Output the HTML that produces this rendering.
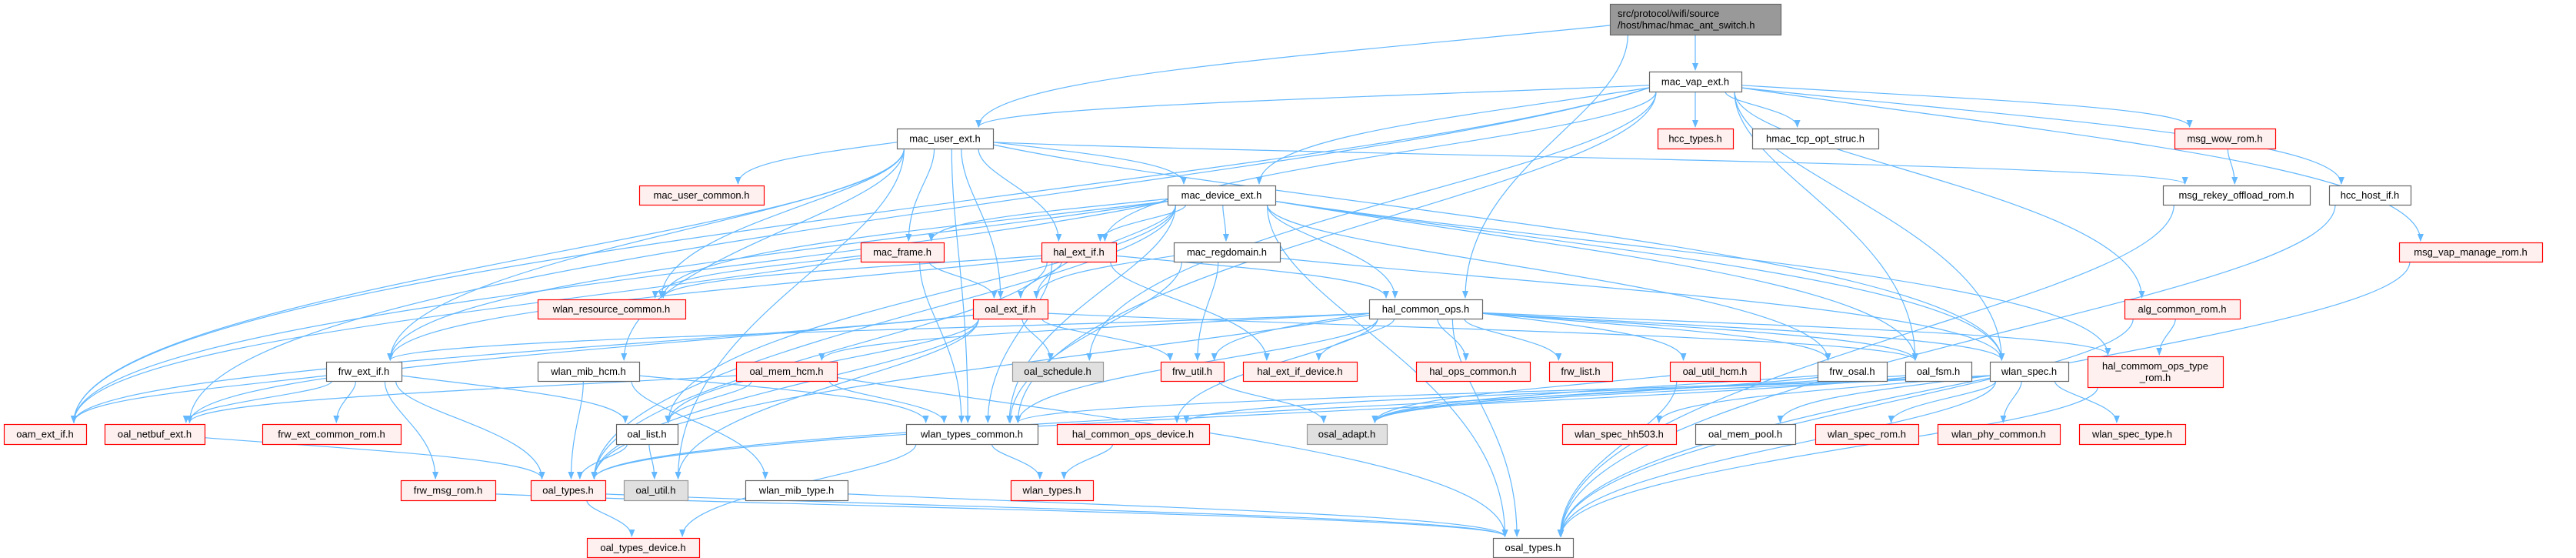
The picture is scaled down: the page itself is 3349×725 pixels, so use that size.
<!DOCTYPE html>
<html><head><meta charset="utf-8"><style>
body{margin:0;background:#fff;width:3349px;height:725px;overflow:hidden;position:relative;font-family:"Liberation Sans","DejaVu Sans",sans-serif;}
svg{position:absolute;left:0;top:0}
</style></head><body>
<svg id="g" width="3349" height="725" xmlns="http://www.w3.org/2000/svg">
<defs><marker id="a" markerWidth="10" markerHeight="10" refX="9" refY="5" orient="auto" markerUnits="userSpaceOnUse"><path d="M0,1 L10,5 L0,9 z" fill="#63b8ff"/></marker></defs>
<g id="e" fill="none" stroke="#63b8ff" stroke-width="1.2"></g>
<g id="n"></g>
</svg>
<script>
var N={
root:[2093,5,2315,45,'k',['src/protocol/wifi/source','/host/hmac/hmac_ant_switch.h']],
vap:[2144,93,2264,119,'w',['mac_vap_ext.h']],
user:[1166,167,1291,193,'w',['mac_user_ext.h']],
hcc_types:[2155,167,2253,193,'r',['hcc_types.h']],
hmac_tcp:[2278,167,2442,193,'w',['hmac_tcp_opt_struc.h']],
msg_wow:[2827,167,2958,193,'r',['msg_wow_rom.h']],
mac_user_common:[831,241,993,266,'r',['mac_user_common.h']],
device:[1518,241,1658,266,'w',['mac_device_ext.h']],
msg_rekey:[2812,241,3003,266,'w',['msg_rekey_offload_rom.h']],
hcc_host_if:[3028,241,3134,266,'w',['hcc_host_if.h']],
mac_frame:[1119,315,1227,340,'r',['mac_frame.h']],
hal_ext_if:[1354,315,1451,340,'r',['hal_ext_if.h']],
regdomain:[1526,315,1664,340,'w',['mac_regdomain.h']],
msg_vap:[3119,315,3305,340,'r',['msg_vap_manage_rom.h']],
wlan_res:[699,389,891,414,'r',['wlan_resource_common.h']],
oal_ext_if:[1265,389,1362,414,'r',['oal_ext_if.h']],
hal_common_ops:[1780,389,1927,414,'w',['hal_common_ops.h']],
alg:[2762,389,2912,414,'r',['alg_common_rom.h']],
frw_ext_if:[424,470,522,495,'w',['frw_ext_if.h']],
wlan_mib_hcm:[699,470,831,495,'w',['wlan_mib_hcm.h']],
oal_mem_hcm:[957,470,1088,495,'r',['oal_mem_hcm.h']],
oal_schedule:[1316,470,1434,495,'g',['oal_schedule.h']],
frw_util:[1509,470,1591,495,'r',['frw_util.h']],
hal_ext_if_device:[1616,470,1764,495,'r',['hal_ext_if_device.h']],
hal_ops_common:[1841,470,1989,495,'r',['hal_ops_common.h']],
frw_list:[2014,470,2096,495,'r',['frw_list.h']],
oal_util_hcm:[2171,470,2288,495,'r',['oal_util_hcm.h']],
frw_osal:[2363,470,2453,495,'w',['frw_osal.h']],
oal_fsm:[2477,470,2563,495,'w',['oal_fsm.h']],
wlan_spec:[2587,470,2689,495,'w',['wlan_spec.h']],
type_rom:[2714,463,2890,503,'r',['hal_commom_ops_type','_rom.h']],
oam_ext_if:[5,551,112,577,'r',['oam_ext_if.h']],
oal_netbuf:[136,551,266,577,'r',['oal_netbuf_ext.h']],
frw_common_rom:[341,551,521,577,'r',['frw_ext_common_rom.h']],
oal_list:[801,551,881,577,'w',['oal_list.h']],
wtc:[1178,551,1349,577,'w',['wlan_types_common.h']],
hcod:[1374,551,1572,577,'r',['hal_common_ops_device.h']],
osal_adapt:[1699,551,1803,577,'g',['osal_adapt.h']],
hh503:[2031,551,2179,577,'r',['wlan_spec_hh503.h']],
mem_pool:[2204,551,2334,577,'w',['oal_mem_pool.h']],
spec_rom:[2360,551,2494,577,'r',['wlan_spec_rom.h']],
phy:[2519,551,2678,577,'r',['wlan_phy_common.h']],
spec_type:[2703,551,2841,577,'r',['wlan_spec_type.h']],
frw_msg_rom:[521,624,644,650,'r',['frw_msg_rom.h']],
oal_types:[690,624,787,650,'r',['oal_types.h']],
oal_util:[811,624,894,650,'g',['oal_util.h']],
mib_type:[969,624,1102,650,'w',['wlan_mib_type.h']],
wlan_types:[1314,624,1421,650,'r',['wlan_types.h']],
otd:[763,699,909,724,'r',['oal_types_device.h']],
osal_types:[1941,699,2045,724,'w',['osal_types.h']]
};
var E={
root:['vap','user','hal_common_ops'],
vap:['user','hcc_types','hmac_tcp','msg_wow','hcc_host_if','msg_vap','alg','oal_fsm','wlan_spec','device','hal_ext_if','oam_ext_if','oal_netbuf','wtc','oal_schedule'],
user:['mac_user_common','wlan_res','frw_ext_if','wlan_mib_hcm','oal_util','mac_frame','oal_ext_if','hal_ext_if','device','wtc','msg_rekey','wlan_spec','oam_ext_if'],
device:['mac_frame','hal_ext_if','regdomain','oal_ext_if','hal_common_ops','wtc','frw_ext_if','wlan_res','oam_ext_if','oal_types','frw_osal','oal_fsm','wlan_spec','osal_types','type_rom','oal_list'],
mac_frame:['oal_ext_if','wtc','wlan_res','oam_ext_if'],
hal_ext_if:['oal_ext_if','hal_common_ops','hal_ext_if_device','wtc','frw_ext_if','oal_types','wlan_res'],
regdomain:['oal_ext_if','frw_util','wlan_spec','wtc'],
oal_ext_if:['oal_schedule','frw_util','oal_fsm','oal_types','oal_util','oal_netbuf','oam_ext_if','oal_list'],
hal_common_ops:['frw_util','hal_ext_if_device','hal_ops_common','frw_list','oal_util_hcm','frw_osal','oal_fsm','wlan_spec','type_rom','oal_mem_hcm','frw_ext_if','wtc','hcod','osal_types','oal_types'],
frw_util:['osal_adapt'],oal_util_hcm:['osal_adapt','osal_types'],frw_osal:['osal_adapt','oal_types'],oal_fsm:['osal_adapt','oal_types'],
wlan_spec:['hh503','mem_pool','spec_rom','phy','spec_type','osal_adapt','hcod','wtc','osal_types'],
type_rom:['osal_types'],alg:['type_rom','osal_types'],msg_wow:['msg_rekey'],msg_rekey:['osal_types'],hcc_host_if:['osal_types'],msg_vap:['osal_types'],
frw_ext_if:['oam_ext_if','oal_netbuf','frw_common_rom','oal_list','frw_msg_rom','oal_types'],
wlan_mib_hcm:['oal_types','mib_type','wtc'],
oal_mem_hcm:['oal_netbuf','oal_list','wtc','osal_types'],
oal_list:['oal_types','oal_util'],oal_netbuf:['oal_types'],frw_msg_rom:['osal_types'],
oal_types:['otd','osal_types'],mib_type:['osal_types'],wtc:['wlan_types','otd'],hcod:['wlan_types']
};
var ns='http://www.w3.org/2000/svg',eg=document.getElementById('e'),ng=document.getElementById('n');
function cx(b){return (b[0]+b[2])/2}
function cl(v,m){return Math.max(-m,Math.min(m,v))}
for(var s in E){E[s].forEach(function(t){var a=N[s],b=N[t],d;
 var hw=(a[2]-a[0])/2,dx=cx(b)-cx(a);
 if(a[1]>=b[3]-2 && a[1]>b[1]){
  var x1=cx(a)+cl(dx*0.3,hw*0.8),y1=a[1],x2=cx(b)+cl(-dx*0.3,(b[2]-b[0])*0.4),y2=b[3];
  d='M'+x1+','+y1+' C'+x1+','+(y1-40)+' '+x2+','+(y2+40)+' '+x2+','+(y2+2);
 } else if(Math.abs(a[1]-b[1])<15){
  var r=b[0]>a[0];var x1=r?a[2]:a[0],x2=r?b[0]:b[2],y=(a[1]+a[3])/2;
  d='M'+x1+','+y+' C'+(x1+(r?60:-60))+','+(y-20)+' '+(x2+(r?-60:60))+','+(y-20)+' '+(x2+(r?-2:2))+','+y;
 } else {
  var dy=b[1]-a[3];
  var x1,y1;
  if(Math.abs(dx)>4*dy+hw){x1=dx>0?a[2]:a[0];y1=(a[1]+a[3])/2+cl(dy*0.1,8);}
  else{x1=cx(a)+cl(dx*0.25,hw*0.85);y1=a[3];}
  var x2=cx(b)+cl(-dx*0.15,(b[2]-b[0])*0.35),y2=b[1];var m=(y2-y1)*0.5;
  d='M'+x1+','+y1+' C'+(x1+(y1<a[3]?(dx>0?1:-1)*Math.min(Math.abs(dx)*0.4,400):0))+','+(y1+m*0.6)+' '+x2+','+(y2-m)+' '+x2+','+(y2-2);
 }
 var p=document.createElementNS(ns,'path');p.setAttribute('d',d);p.setAttribute('marker-end','url(#a)');eg.appendChild(p);});}
var C={w:['#ffffff','#666666'],r:['#fff0f0','#ff0000'],g:['#e0e0e0','#999999'],k:['#999999','#666666']};
for(var k in N){var b=N[k],c=C[b[4]];var r=document.createElementNS(ns,'rect');
 r.setAttribute('x',b[0]+0.5);r.setAttribute('y',b[1]+0.5);r.setAttribute('width',b[2]-b[0]);r.setAttribute('height',b[3]-b[1]);
 r.setAttribute('fill',c[0]);r.setAttribute('stroke',c[1]);r.setAttribute('stroke-width','1.2');ng.appendChild(r);
 var L=b[5];L.forEach(function(s,i){var t=document.createElementNS(ns,'text');
  t.setAttribute('x',L.length>1&&k=='root'?b[0]+10:cx(b));t.setAttribute('text-anchor',L.length>1&&k=='root'?'start':'middle');
  var my=(b[1]+b[3])/2+4.5+(i-(L.length-1)/2)*15;t.setAttribute('y',my);t.setAttribute('font-size','13');
  t.setAttribute('font-family','Liberation Sans, DejaVu Sans, sans-serif');t.setAttribute('fill','#000');t.textContent=s;ng.appendChild(t);});}
</script>
</body></html>
